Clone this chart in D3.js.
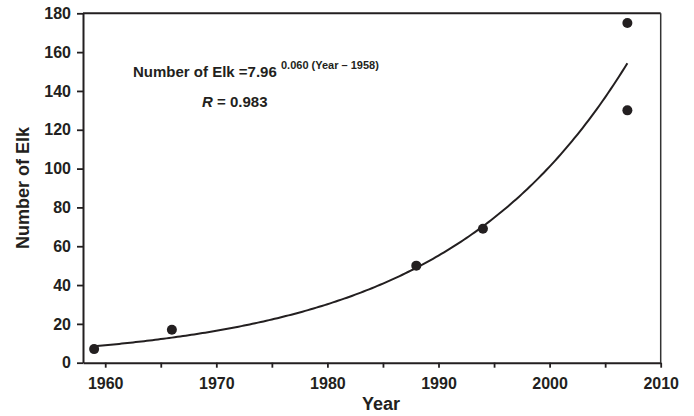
<!DOCTYPE html>
<html>
<head>
<meta charset="utf-8">
<script src="https://cdn.jsdelivr.net/npm/d3@7"></script>
<style>
  body { margin: 0; background: #fff; }
  text { font-family: "Liberation Sans", Arial, sans-serif; font-weight: bold; fill: #231f20; }
</style>
</head>
<body>
<div class="chart"></div>
<script>
// observed counts
var years = [1959, 1966, 1988, 1994, 2007, 2007];
var elk = [7, 17, 50, 69, 175, 130];

// fitted exponential (as printed on the chart)
var fitA = 7.96, fitB = 0.0605, fitBase = 1958;
var fitStart = 1959, fitEnd = 2007;

var xTicks = [1960, 1965, 1970, 1975, 1980, 1985, 1990, 1995, 2000, 2005, 2010];
var yTicks = [0, 20, 40, 60, 80, 100, 120, 140, 160, 180];

var W = 694, H = 416;
var margin = {top: 13.3, right: 33.3, bottom: 53.3, left: 83},
    width = W - margin.left - margin.right,
    height = H - margin.top - margin.bottom;

var svg = d3.select(".chart")
  .append("svg")
    .attr("width", W)
    .attr("height", H)
  .append("g")
    .attr("transform", "translate(" + margin.left + "," + margin.top + ")");

var x = d3.scaleLinear().domain([1958, 2010]).range([0, width]);
var y = d3.scaleLinear().domain([0, 180]).range([height, 0]);

// frame top + right
svg.append("line")
  .attr("x1", 0).attr("x2", width).attr("y1", 0).attr("y2", 0)
  .attr("stroke", "#231f20").attr("stroke-width", 2);
svg.append("line")
  .attr("x1", width).attr("x2", width).attr("y1", 0).attr("y2", height)
  .attr("stroke", "#333").attr("stroke-width", 1.5);

// X axis
var gx = svg.append("g")
  .attr("transform", "translate(0," + height + ")")
  .call(d3.axisBottom(x)
    .tickValues(xTicks)
    .tickSize(5)
    .tickSizeOuter(0)
    .tickPadding(10)
    .tickFormat(function(d) { return d % 10 === 0 ? d : ""; }));
gx.select(".domain").attr("stroke", "#231f20").attr("stroke-width", 2);
gx.selectAll(".tick line").attr("stroke", "#231f20").attr("stroke-width", 1.8);
gx.selectAll("text").attr("font-size", "16px").attr("fill", "#231f20");

// Y axis
var gy = svg.append("g")
  .call(d3.axisLeft(y)
    .tickValues(yTicks)
    .tickSize(6)
    .tickSizeOuter(0)
    .tickPadding(6));
gy.select(".domain").attr("stroke", "#231f20").attr("stroke-width", 2);
gy.selectAll(".tick line").attr("stroke", "#231f20").attr("stroke-width", 1.8);
gy.selectAll("text").attr("font-size", "16px").attr("fill", "#231f20");

// axis titles
svg.append("text")
  .attr("text-anchor", "middle")
  .attr("x", 381 - margin.left)
  .attr("y", height + 47)
  .attr("font-size", "18px")
  .text("Year");

svg.append("text")
  .attr("text-anchor", "middle")
  .attr("transform", "translate(" + (29 - margin.left) + "," + (height / 2) + ") rotate(-90)")
  .attr("font-size", "18px")
  .text("Number of Elk");

// fitted curve
var fitYears = d3.range(fitStart, fitEnd + 0.001, 0.25);
var line = d3.line()
  .x(function(d) { return x(d); })
  .y(function(d) { return y(fitA * Math.exp(fitB * (d - fitBase))); });
svg.append("path")
  .datum(fitYears)
  .attr("fill", "none")
  .attr("stroke", "#231f20")
  .attr("stroke-width", 2)
  .attr("d", line);

// points
svg.selectAll("circle.pt")
  .data(years)
  .enter()
  .append("circle")
    .attr("class", "pt")
    .attr("cx", function(d) { return x(d); })
    .attr("cy", function(d, i) { return y(elk[i]); })
    .attr("r", 5)
    .attr("fill", "#231f20");

// equation
var eq = svg.append("text")
  .attr("x", 133 - margin.left)
  .attr("y", 77.5 - margin.top)
  .attr("font-size", "15px");
eq.append("tspan").text("Number of Elk =7.96 ");
eq.append("tspan")
  .attr("font-size", "11px")
  .attr("dy", -8)
  .text("0.060 (Year \u2013 1958)");

var rt = svg.append("text")
  .attr("x", 202 - margin.left)
  .attr("y", 107.5 - margin.top)
  .attr("font-size", "15px");
rt.append("tspan").attr("font-style", "italic").text("R");
rt.append("tspan").text(" = 0.983");
</script>
</body>
</html>
